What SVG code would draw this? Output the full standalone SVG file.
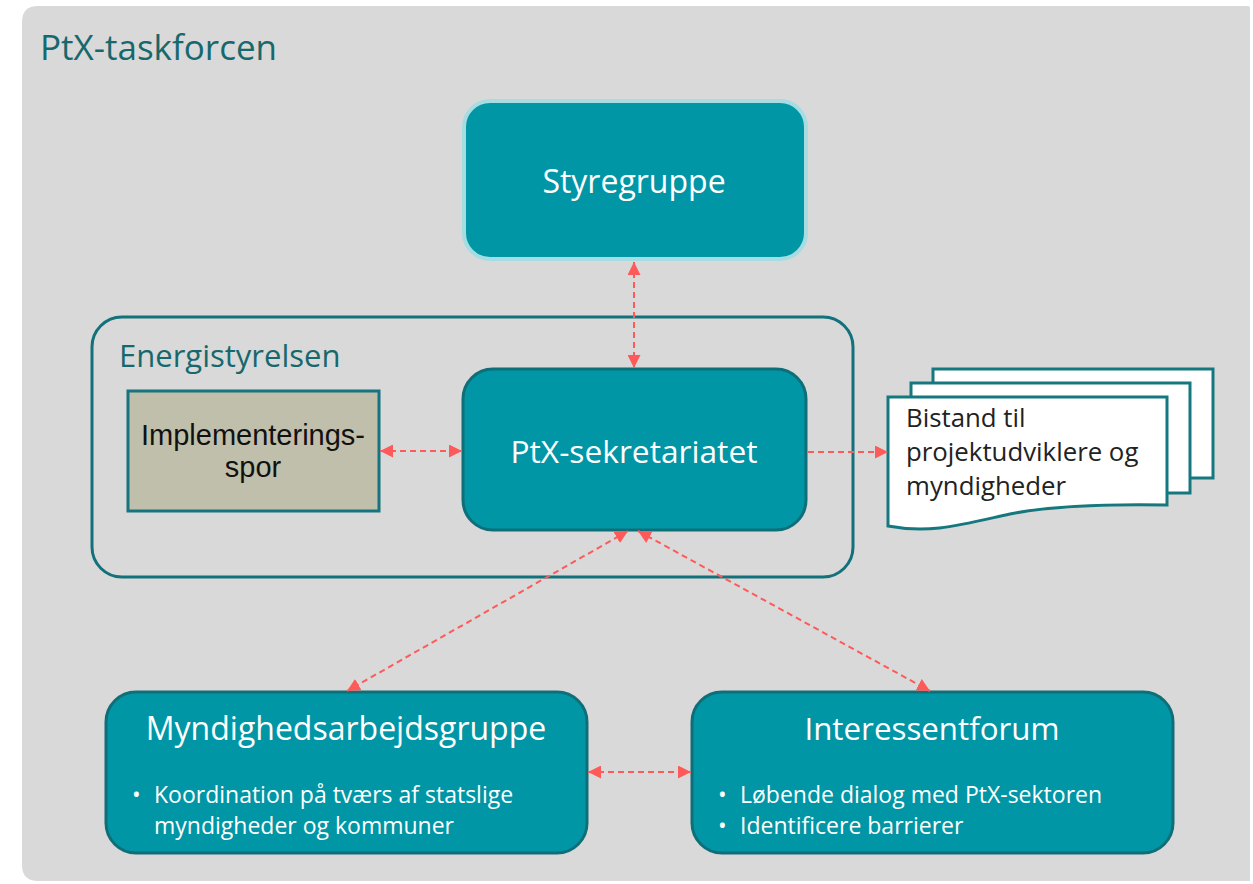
<svg xmlns="http://www.w3.org/2000/svg" width="1253" height="884" viewBox="0 0 1253 884">
<defs>
<style>
.title{font-family:"Open Sans","Noto Sans",sans-serif;fill:#17686d;}
.node{fill:#0096a6;stroke:#0f6f78;stroke-width:3;}
.wt{font-family:"Open Sans","Noto Sans",sans-serif;fill:#ffffff;}
.conn{fill:none;stroke:#ff5a5a;stroke-width:2;stroke-dasharray:6 4;}
.doc{fill:#ffffff;stroke:#16787f;stroke-width:3;}
.dt{font-family:"Open Sans","Noto Sans",sans-serif;fill:#222;font-size:25.8px;}
.imp{font-family:"Liberation Sans",Arial,sans-serif;fill:#111;font-size:29px;}
</style>
<marker id="ah" viewBox="0 0 12 12" refX="12" refY="6" markerWidth="13" markerHeight="13" markerUnits="userSpaceOnUse" orient="auto-start-reverse">
<path d="M0,0 L12,6 L0,12 Z" fill="#ff5a5a"/>
</marker>
</defs>
<rect x="0" y="0" width="1253" height="884" fill="#ffffff"/>
<g id="taskforce">
<path d="M22,22 Q22,6 38,6 L1248,6 Q1250,6 1250,8 L1250,881 L38,881 Q22,881 22,865 Z" fill="#d9d9d9"/>
<text class="title" x="40" y="60" font-size="35">PtX-taskforcen</text>
</g>
<g id="energistyrelsen">
<rect x="92" y="317" width="761" height="260" rx="30" fill="none" stroke="#12717a" stroke-width="3"/>
<text class="title" x="119" y="367" font-size="31">Energistyrelsen</text>
</g>
<g id="styregruppe">
<rect x="464" y="101" width="342" height="158" rx="26" fill="#0096a6" stroke="#a6dde2" stroke-width="4"/>
<text class="wt" x="634" y="193" font-size="32" text-anchor="middle">Styregruppe</text>
</g>
<g id="implementeringsspor">
<rect x="128" y="391" width="251" height="120" fill="#c0bfab" stroke="#15747e" stroke-width="3"/>
<text class="imp" x="253" y="445" text-anchor="middle">Implementerings-</text>
<text class="imp" x="253" y="477" text-anchor="middle">spor</text>
</g>
<g id="sekretariatet">
<rect class="node" x="463" y="369" width="343" height="161" rx="30"/>
<text class="wt" x="634" y="463" font-size="31.7" text-anchor="middle">PtX-sekretariatet</text>
</g>
<g id="bistand">
<rect class="doc" x="933" y="369" width="280" height="109"/>
<rect class="doc" x="911" y="383" width="279" height="110"/>
<path class="doc" d="M888,397 L1167,397 L1167,505 C1110,504 1050,506 1010,514 C960,525 930,534 888,526 Z"/>
<text class="dt" x="906" y="427">Bistand til</text>
<text class="dt" x="906" y="461">projektudviklere og</text>
<text class="dt" x="906" y="495">myndigheder</text>
</g>
<g id="myndighedsarbejdsgruppe">
<rect class="node" x="106" y="692" width="481" height="161" rx="30"/>
<text class="wt" x="346" y="740" font-size="32" text-anchor="middle">Myndighedsarbejdsgruppe</text>
<text class="wt" x="132" y="803" font-size="23">•</text>
<text class="wt" x="154" y="803" font-size="23">Koordination på tværs af statslige</text>
<text class="wt" x="154" y="834" font-size="23">myndigheder og kommuner</text>
</g>
<g id="interessentforum">
<rect class="node" x="692" y="692" width="481" height="161" rx="30"/>
<text class="wt" x="932" y="740" font-size="31.3" text-anchor="middle">Interessentforum</text>
<text class="wt" x="718" y="803" font-size="23">•</text>
<text class="wt" x="740" y="803" font-size="23">Løbende dialog med PtX-sektoren</text>
<text class="wt" x="718" y="834" font-size="23">•</text>
<text class="wt" x="740" y="834" font-size="23">Identificere barrierer</text>
</g>
<g id="connectors">
<line class="conn" x1="634" y1="262" x2="634" y2="368" marker-start="url(#ah)" marker-end="url(#ah)"/>
<line class="conn" x1="380" y1="451" x2="462" y2="451" marker-start="url(#ah)" marker-end="url(#ah)"/>
<line class="conn" x1="808" y1="452" x2="888" y2="452" marker-end="url(#ah)"/>
<line class="conn" x1="628" y1="531" x2="347" y2="691" marker-start="url(#ah)" marker-end="url(#ah)"/>
<line class="conn" x1="638" y1="531" x2="930" y2="691" marker-start="url(#ah)" marker-end="url(#ah)"/>
<line class="conn" x1="588" y1="772" x2="691" y2="772" marker-start="url(#ah)" marker-end="url(#ah)"/>
</g>
</svg>
